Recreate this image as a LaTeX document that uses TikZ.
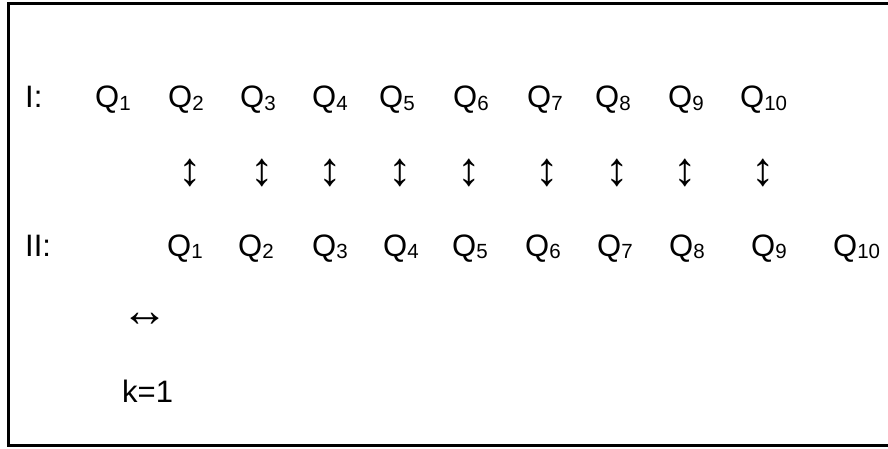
\documentclass[tikz,border=0pt]{standalone}
\usepackage{fontspec}
\setmainfont{Liberation Sans}
\newcommand\qsub[1]{Q\raisebox{-0.09em}{\fontsize{20.5}{20.5}\selectfont #1}}
\tikzset{
  lbl/.style={anchor=base west, inner sep=0pt, font=\fontsize{31}{31}\selectfont},
  varrow/.style={anchor=center, inner sep=0pt, font=\fontsize{47}{47}\selectfont},
  frameline/.style={line width=2.5pt, black}
}
\begin{document}
\begin{tikzpicture}[x=1pt,y=1pt]
\useasboundingbox (0,0) rectangle (888,448);
\draw[frameline] (888,444.5) -- (8.5,444.5) -- (8.5,2.5) -- (888,2.5);
% row I
\node[lbl] (r1) at (25,340) {I:};
\foreach \i/\x in {1/95,2/168,3/240,4/312,5/379,6/453,7/527,8/595,9/668,10/740}
  \node[lbl] (qa\i) at (\x,340) {\qsub{\i}};
% arrows
\foreach \i/\x in {2/190,3/262,4/330,5/400,6/469,7/547,8/617,9/685,10/763}
  \node[varrow] (va\i) at (\x,275) {↕};
% row II
\node[lbl] (r2) at (25,192) {II:};
\foreach \i/\x in {1/167,2/238,3/312,4/383,5/452,6/525,7/597,8/669,9/751,10/833}
  \node[lbl] (qb\i) at (\x,192) {\qsub{\i}};
\node[varrow] (h) at (145,128) {↔};
\node[lbl] (k) at (122,46) {k=1};
\end{tikzpicture}
\end{document}
